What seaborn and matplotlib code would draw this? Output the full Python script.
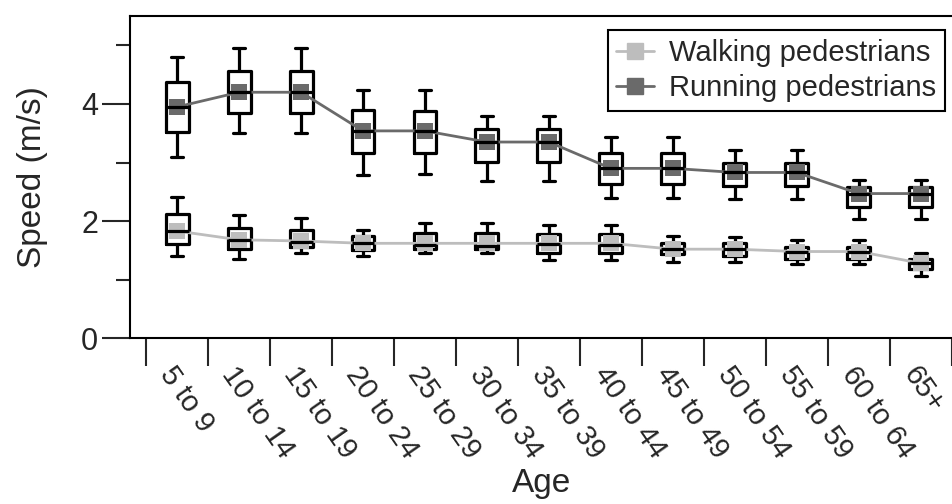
import numpy as np
import pandas as pd
import seaborn as sns
import matplotlib.pyplot as plt
from matplotlib.lines import Line2D

ages = ["5 to 9", "10 to 14", "15 to 19", "20 to 24", "25 to 29", "30 to 34",
        "35 to 39", "40 to 44", "45 to 49", "50 to 54", "55 to 59", "60 to 64", "65+"]

# box stats per age group: whisker low, q1, median, q3, whisker high
walk_lo = [1.40, 1.36, 1.46, 1.40, 1.46, 1.46, 1.33, 1.33, 1.30, 1.30, 1.26, 1.26, 1.06]
walk_q1 = [1.61, 1.52, 1.55, 1.50, 1.53, 1.53, 1.46, 1.46, 1.44, 1.40, 1.36, 1.36, 1.18]
walk_med = [1.83, 1.68, 1.65, 1.62, 1.59, 1.58, 1.61, 1.59, 1.52, 1.52, 1.48, 1.48, 1.28]
walk_q3 = [2.12, 1.89, 1.85, 1.74, 1.79, 1.80, 1.78, 1.78, 1.63, 1.63, 1.56, 1.56, 1.36]
walk_hi = [2.41, 2.10, 2.06, 1.85, 1.97, 1.97, 1.94, 1.94, 1.74, 1.73, 1.68, 1.68, 1.45]
walk_line = [1.83, 1.68, 1.66, 1.62, 1.62, 1.62, 1.62, 1.62, 1.52, 1.52, 1.48, 1.48, 1.28]

run_lo = [3.10, 3.50, 3.50, 2.79, 2.80, 2.68, 2.68, 2.40, 2.40, 2.37, 2.37, 2.03, 2.03]
run_q1 = [3.52, 3.85, 3.85, 3.16, 3.17, 3.01, 3.01, 2.64, 2.64, 2.60, 2.60, 2.24, 2.24]
run_med = [3.95, 4.20, 4.20, 3.54, 3.54, 3.35, 3.35, 2.90, 2.90, 2.83, 2.83, 2.47, 2.47]
run_q3 = [4.37, 4.57, 4.57, 3.89, 3.88, 3.57, 3.57, 3.17, 3.17, 3.00, 3.00, 2.59, 2.59]
run_hi = [4.80, 4.95, 4.95, 4.23, 4.23, 3.80, 3.80, 3.43, 3.43, 3.21, 3.21, 2.70, 2.70]

walk_color = "#bdbdbd"
run_color = "#6a6a6a"


def long_form(lo, q1, med, q3, hi):
    rows = []
    for i, age in enumerate(ages):
        for v in (lo[i], q1[i], med[i], q3[i], hi[i]):
            rows.append((age, v))
    return pd.DataFrame(rows, columns=["Age", "Speed"])


walk_df = long_form(walk_lo, walk_q1, walk_med, walk_q3, walk_hi)
run_df = long_form(run_lo, run_q1, run_med, run_q3, run_hi)

sns.set_style("ticks")
plt.rcParams["font.family"] = ["Liberation Sans", "DejaVu Sans"]

fig = plt.figure(figsize=(9.53, 5.04), dpi=100)
ax = fig.add_axes([0.1364, 0.329, 0.8636, 0.639])

box_kw = dict(order=ages, width=0.37, whis=(0, 100), fill=False, color="black",
              linewidth=2.3, showfliers=False, ax=ax,
              medianprops=dict(linewidth=2.3, zorder=5))
for df in (walk_df, run_df):
    sns.boxplot(data=df, x="Age", y="Speed", **box_kw)

x = np.arange(len(ages))
sns.lineplot(x=x, y=walk_line, color=walk_color, linewidth=2, marker="s",
             markersize=12, markeredgewidth=0, ax=ax, zorder=4)
sns.lineplot(x=x, y=run_med, color=run_color, linewidth=2, marker="s",
             markersize=12, markeredgewidth=0, ax=ax, zorder=4)

ax.set_xlim(-0.76, 12.52)
ax.set_ylim(0, 5.5)
ax.set_yticks([0, 2, 4])
ax.set_yticks([1, 3, 5], minor=True)
ax.tick_params(axis="y", which="major", length=20, width=1.5, labelsize=22, pad=3)
ax.tick_params(axis="y", which="minor", length=10, width=1.5)

ax.set_xticks(x)
ax.set_xticks(np.arange(-0.5, 13, 1), minor=True)
ax.set_xticklabels(ages, rotation=-55, ha="left", va="top", rotation_mode="anchor")
ax.tick_params(axis="x", which="major", length=0, labelsize=21, pad=17)
ax.tick_params(axis="x", which="minor", length=20, width=1.5)

for side in ("left", "bottom", "top"):
    ax.spines[side].set_linewidth(1.5)
    ax.spines[side].set_color("black")
ax.spines["right"].set_visible(False)

ax.set_xlabel("Age", fontsize=24, labelpad=3)
ax.set_ylabel("Speed (m/s)", fontsize=24, labelpad=24)

handles = [Line2D([], [], color=walk_color, linewidth=2, marker="s", markersize=12),
           Line2D([], [], color=run_color, linewidth=2, marker="s", markersize=12)]
leg = ax.legend(handles, ["Walking pedestrians", "Running pedestrians"],
                loc="upper right", bbox_to_anchor=(0.997, 0.975), fontsize=21,
                frameon=True, fancybox=False, edgecolor="black", framealpha=1,
                handlelength=1.3, handletextpad=0.5, borderpad=0.3,
                labelspacing=0.25, borderaxespad=0.2)
leg.get_frame().set_linewidth(1.5)

fig.savefig("out.png", dpi=100)
